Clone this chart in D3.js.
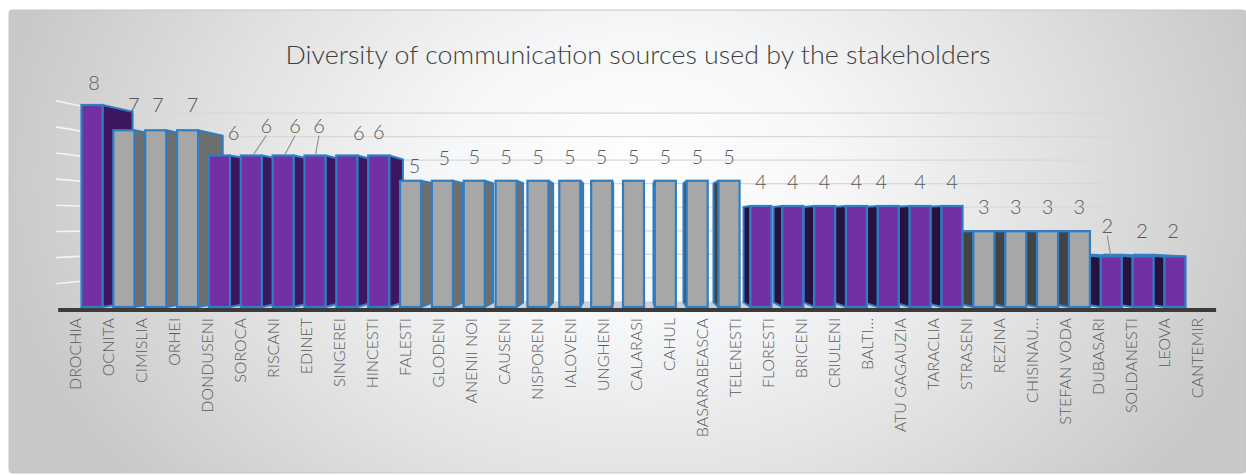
<!DOCTYPE html>
<html>
<head>
<meta charset="utf-8">
<script src="https://cdn.jsdelivr.net/npm/d3@7"></script>
<style>
  html, body { margin: 0; padding: 0; background: #ffffff; }
  svg { display: block; }
</style>
</head>
<body>
<svg id="chart" width="1246" height="475"></svg>
<script>
// ---- data ----
const categories = [
  "DROCHIA", "OCNITA", "CIMISLIA", "ORHEI", "DONDUSENI", "SOROCA", "RISCANI",
  "EDINET", "SINGEREI", "HINCESTI", "FALESTI", "GLODENI", "ANENII NOI", "CAUSENI",
  "NISPORENI", "IALOVENI", "UNGHENI", "CALARASI", "CAHUL", "BASARABEASCA",
  "TELENESTI", "FLORESTI", "BRICENI", "CRIULENI", "BALTI…", "ATU GAGAUZIA",
  "TARACLIA", "STRASENI", "REZINA", "CHISINAU…", "STEFAN VODA", "DUBASARI",
  "SOLDANESTI", "LEOVA", "CANTEMIR"
];
const values = [
  8, 7, 7, 7, 6, 6, 6, 6, 6, 6,
  5, 5, 5, 5, 5, 5, 5, 5, 5, 5, 5,
  4, 4, 4, 4, 4, 4, 4,
  3, 3, 3, 3,
  2, 2, 2
];
const gridValues = [1, 2, 3, 4, 5, 6, 7, 8];
const chartTitle = "Diversity of communication sources used by the stakeholders";

// ---- layout ----
const W = 1246, H = 475;
const VP = { x: 630, y: 225 };          // vanishing point of the 3D view
const BAR_DEPTH = 0.943;                // scale of a bar's back face
const WALL_DEPTH = 0.933;               // scale of the back wall
const FLOOR_FRONT = 1.036;              // scale of the floor's front edge
const PLANE = [76.1, 1190.9];           // plot extent in the bars' front plane
const FONT = "Lato, 'Open Sans', sans-serif";

// hand-placed data labels: [dx, dy, leader line]
const labelNudge = {
  "DROCHIA": [2, 2], "OCNITA": [10, -1], "CIMISLIA": [2, -1], "ORHEI": [5, -1],
  "DONDUSENI": [14, 1], "SOROCA": [15, -6, true], "RISCANI": [12, -6, true],
  "EDINET": [4, -6, true], "SINGEREI": [12, 1], "FALESTI": [4, 9], "GLODENI": [2, 1],
  "ATU GAGAUZIA": [-7, 0], "SOLDANESTI": [-4, -7, true], "LEOVA": [-1, -2],
  "CANTEMIR": [-2, -2]
};

const svg = d3.select("#chart");
const defs = svg.append("defs");

const bgGrad = defs.append("radialGradient")
  .attr("id", "bgGrad")
  .attr("gradientUnits", "userSpaceOnUse")
  .attr("cx", 640).attr("cy", 180).attr("r", 650)
  .attr("gradientTransform", "translate(640,180) scale(1,0.75) translate(-640,-180)");
[["0", "#ffffff"], ["0.3", "#f6f7f9"], ["0.62", "#e3e3e3"], ["1", "#c8c8c8"]]
  .forEach(([o, c]) => bgGrad.append("stop").attr("offset", o).attr("stop-color", c));

// chart area
svg.append("rect")
  .attr("x", 9).attr("y", 10).attr("width", W - 9).attr("height", 463)
  .attr("rx", 3)
  .attr("fill", "url(#bgGrad)")
  .attr("stroke", "#c4c4c4").attr("stroke-width", 1);

// scales
const x = d3.scaleBand()
  .domain(categories)
  .range(PLANE)
  .paddingInner(0.34)
  .paddingOuter(0.17);

const xLabel = d3.scaleBand()
  .domain(categories)
  .range([58.5, 58.5 + 33 * categories.length]);

const y = d3.scaleLinear().domain([0, 8]).range([307, 105]);

const proj = (px, py, s) => [VP.x + (px - VP.x) * s, VP.y + (py - VP.y) * s];
const line = d3.line();

// floor
const floorPts = [
  proj(PLANE[0], y(0), FLOOR_FRONT), proj(PLANE[1], y(0), FLOOR_FRONT),
  proj(PLANE[1], y(0), WALL_DEPTH), proj(PLANE[0], y(0), WALL_DEPTH)
];
svg.append("path")
  .attr("d", line(floorPts) + "Z")
  .attr("fill", "#cdd0d4");

// gridlines: back wall and left side wall
const grid = svg.append("g");
gridValues.forEach(v => {
  grid.append("path")
    .attr("d", line([proj(PLANE[0], y(v), WALL_DEPTH), proj(PLANE[1], y(v), WALL_DEPTH)]))
    .attr("stroke", "#d8d8d8").attr("stroke-width", 1.2).attr("fill", "none");
  grid.append("path")
    .attr("d", line([proj(PLANE[0], y(v), FLOOR_FRONT), proj(PLANE[0], y(v), WALL_DEPTH)]))
    .attr("stroke", "#f4f4f4").attr("stroke-width", 1.6).attr("fill", "none");
});

// bars
const barData = categories.map((c, i) => ({ cat: c, value: values[i] }));
const isPurple = v => v % 2 === 0;
const frontColor = v => isPurple(v) ? "#7230a3" : "#a7a7a7";
const sideColor = (v, leftHalf) => isPurple(v)
  ? (leftHalf ? "#3d1660" : "#26113f")
  : (leftHalf ? "#6e6e6e" : "#434343");
const OUTLINE = "#2f7ec4";

const faces = svg.append("g");
const fronts = svg.append("g");

barData.forEach(d => {
  const x0 = x(d.cat), x1 = x0 + x.bandwidth();
  const yt = y(d.value), yb = y(0);
  // side face
  let side = null, leftHalf = true;
  if (x1 < VP.x) {
    side = [[x1, yt], proj(x1, yt, BAR_DEPTH), proj(x1, yb, BAR_DEPTH), [x1, yb]];
  } else if (x0 > VP.x) {
    leftHalf = false;
    side = [[x0, yt], proj(x0, yt, BAR_DEPTH), proj(x0, yb, BAR_DEPTH), [x0, yb]];
  }
  if (side) {
    faces.append("path")
      .attr("d", line(side) + "Z")
      .attr("fill", sideColor(d.value, leftHalf))
      .attr("stroke", OUTLINE).attr("stroke-width", 2).attr("stroke-linejoin", "round");
  }
  // top face (visible only below the horizon)
  if (yt > VP.y) {
    const top = [[x0, yt], [x1, yt], proj(x1, yt, BAR_DEPTH), proj(x0, yt, BAR_DEPTH)];
    faces.append("path")
      .attr("d", line(top) + "Z")
      .attr("fill", frontColor(d.value))
      .attr("stroke", OUTLINE).attr("stroke-width", 2).attr("stroke-linejoin", "round");
  }
  fronts.append("rect")
    .attr("x", x0).attr("y", yt)
    .attr("width", x1 - x0).attr("height", yb - yt)
    .attr("fill", frontColor(d.value))
    .attr("stroke", OUTLINE).attr("stroke-width", 2.2);
});

// floor front edge
const f0 = proj(PLANE[0], y(0), FLOOR_FRONT), f1 = proj(PLANE[1], y(0), FLOOR_FRONT);
svg.append("path")
  .attr("d", line([[f0[0] + 2, f0[1]], [f1[0] + 5, f1[1]]]))
  .attr("stroke", "#3b3b3b").attr("stroke-width", 4).attr("fill", "none");

// data labels
const labels = svg.append("g")
  .attr("font-family", FONT)
  .attr("font-weight", 300)
  .attr("font-size", 20)
  .attr("fill", "#595959")
  .attr("text-anchor", "middle");

barData.forEach(d => {
  const n = labelNudge[d.cat] || [0, 0, false];
  const cx = x(d.cat) + x.bandwidth() / 2;
  const yt = y(d.value);
  const lx = cx + n[0], ly = yt - 17 + n[1];
  if (n[2]) {
    labels.append("path")
      .attr("d", line([[lx, ly + 3], [cx + (lx - cx) * 0.15, yt - 1]]))
      .attr("stroke", "#8c8c8c").attr("stroke-width", 1.1).attr("fill", "none");
  }
  labels.append("text")
    .attr("x", lx).attr("y", ly)
    .text(d.value);
});

// category axis
const axis = svg.append("g")
  .attr("transform", `translate(0,${f0[1]})`)
  .call(d3.axisBottom(xLabel).tickSize(0));
axis.select(".domain").remove();
axis.selectAll("text")
  .attr("transform", "rotate(-90)")
  .attr("text-anchor", "end")
  .attr("x", -8)
  .attr("y", 0)
  .attr("dy", "0.36em")
  .attr("font-family", FONT)
  .attr("font-weight", 300)
  .attr("font-size", 16)
  .attr("fill", "#595959");

// title
svg.append("text")
  .attr("x", 638).attr("y", 64)
  .attr("text-anchor", "middle")
  .attr("font-family", FONT)
  .attr("font-weight", 300)
  .attr("font-size", 25)
  .attr("fill", "#404040")
  .attr("textLength", 705)
  .attr("lengthAdjust", "spacingAndGlyphs")
  .text(chartTitle);
</script>
</body>
</html>
